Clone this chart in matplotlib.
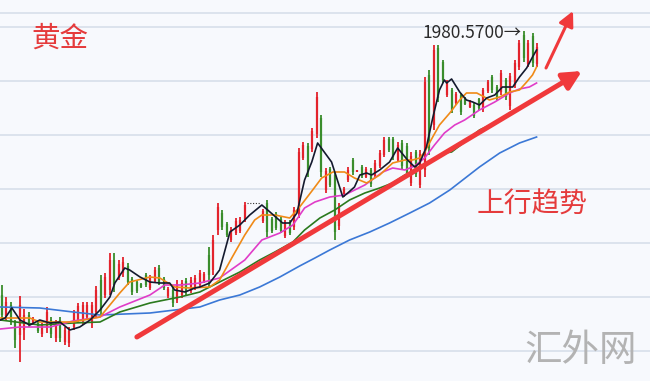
import numpy as np
import matplotlib
matplotlib.use("Agg")
import matplotlib.pyplot as plt

nan = float("nan")

# ---------------- data (gold, OHLC) ----------------
opens = [1717, 1696, 1707, 1690, 1677, 1682, 1697, 1688, 1689, 1678,
         1684, 1692, 1674, 1692, 1670, 1669, 1685, 1692, 1691, 1695,
         1690, 1700, 1732, 1717, 1722, 1752, 1734, 1739, 1746, 1733,
         1730, 1728.5, 1737, 1724, 1731, 1744, 1733, 1716, 1722, 1712,
         1717, 1731, 1721, 1724, 1727, 1731, 1757, 1742, 1782, 1799,
         1788, 1772, 1779, 1781, 1793, nan, nan, nan, 1791, 1809,
         1793, 1798, 1793, 1776, 1790, 1785, 1798, 1854, 1866, 1863,
         1878, 1894, 1822, 1843, 1837, 1786, 1817, 1832, 1852, 1840,
         1845, 1835, 1842, 1836, 1846, 1857, 1873, 1873, 1852, 1869,
         1866, 1829, 1860, 1827, 1842, 1937, 1887, 1964, 1950, 1917,
         1922, 1909, 1917, 1914, 1905, 1907, 1913, 1903, 1921, 1935,
         1925, 1920, 1932, 1906, 1927, 1945, 1977, 1948, 1976, 1948]
highs = [1727, 1715, 1710, 1692, 1716, 1703, 1700, 1695, 1690, 1689,
         1705, 1695, 1692, 1695, 1685, 1685, 1702, 1709, 1710, 1710,
         1710, 1726, 1737, 1739, 1759, 1759, 1752, 1755, 1749, 1735,
         1732, 1729, 1739, 1737, 1745, 1747, 1735, 1725, 1725, 1732,
         1732, 1734, 1735, 1737, 1742, 1740, 1765, 1777, 1809, 1802,
         1790, 1785, 1794, 1795, 1810, nan, nan, nan, 1803, 1812,
         1795, 1800, 1795, 1792, 1792, 1805, 1864, 1870, 1869, 1884,
         1920, 1897, 1844, 1845, 1840, 1809, 1825, 1845, 1854, 1842,
         1847, 1845, 1844, 1852, 1862, 1875, 1875, 1875, 1870, 1872,
         1869, 1860, 1862, 1862, 1935, 1942, 1967, 1967, 1952, 1932,
         1924, 1920, 1919, 1915, 1912, 1909, 1914, 1924, 1932, 1937,
         1927, 1942, 1934, 1939, 1952, 1972, 1980.57, 1972, 1979, 1969]
lows = [1692, 1692, 1687, 1664, 1650, 1672, 1685, 1687, 1679, 1675,
        1679, 1674, 1670, 1670, 1667, 1665, 1682, 1689, 1687, 1692,
        1684, 1694, 1695, 1714, 1717, 1720, 1732, 1735, 1727, 1717,
        1719, 1724, 1725, 1722, 1729, 1727, 1722, 1714, 1705, 1709,
        1714, 1717, 1719, 1722, 1725, 1729, 1725, 1737, 1777, 1782,
        1775, 1770, 1777, 1779, 1790, nan, nan, nan, 1789, 1775,
        1779, 1782, 1779, 1774, 1777, 1782, 1794, 1852, 1835, 1860,
        1874, 1835, 1819, 1825, 1772, 1782, 1815, 1830, 1837, 1840,
        1834, 1834, 1825, 1834, 1844, 1855, 1860, 1852, 1850, 1842,
        1835, 1826, 1835, 1824, 1835, 1857, 1882, 1910, 1929, 1915,
        1899, 1907, 1897, 1907, 1904, 1894, 1902, 1900, 1919, 1919,
        1912, 1917, 1912, 1902, 1924, 1942, 1950, 1945, 1945, 1945]
closes = [1697, 1710, 1690, 1672, 1707, 1697, 1687, 1693, 1681, 1686,
          1700, 1678, 1687, 1674, 1682, 1681, 1699, 1706, 1707, 1707,
          1707, 1722, 1702, 1735, 1752, 1727, 1748, 1750, 1730, 1720,
          1721, 1725, 1727, 1734, 1742, 1730, 1724, 1723, 1709, 1728,
          1729, 1720, 1732, 1734, 1739, 1738, 1737, 1772, 1805, 1785,
          1777, 1782, 1791, 1792, 1807, nan, nan, nan, 1801, 1780,
          1781, 1784, 1781, 1789, 1779, 1802, 1860, 1867, 1840, 1881,
          1915, 1840, 1841, 1827, 1780, 1805, 1823, 1842, 1840, 1842,
          1836, 1843, 1828, 1849, 1859, 1872, 1862, 1855, 1867, 1846,
          1839, 1856, 1838, 1858, 1930, 1864, 1962, 1914, 1932, 1929,
          1902, 1918, 1900, 1908, 1911, 1896, 1904, 1922, 1930, 1922,
          1914, 1939, 1915, 1936, 1949, 1969, 1954, 1969, 1949, 1965]

# moving averages, read as (bar position, price)
ma5_x = [-0.4, 0.7, 2.2, 4, 6.2, 8.4, 10.7, 12.9, 15.1, 17.3, 19.6, 21.8, 24, 25.1,
         27.3, 28.4, 30.7, 32.9, 35.1, 37.3, 38.4, 40.7, 42.9, 44, 46.2, 48.4, 50.7,
         52.9, 55.1, 57.8, 59.6, 62.4, 64, 65.6, 67.3, 68.9, 70.2, 73.3, 75.8, 76.9,
         78.4, 79.6, 81.1, 82.2, 84, 86.2, 88, 90.2, 91.8, 92.9, 94.4, 95.8, 97.3,
         98.4, 98.9, 100, 101.8, 103.3, 104.7, 106.2, 107.8, 109.6, 111.3, 113.6,
         115.1, 116.7, 118, 118.9]
ma5_y = [1692, 1694, 1704, 1692, 1687, 1692, 1689, 1690, 1682, 1685, 1692, 1702, 1715,
         1729, 1744, 1742, 1735, 1730, 1729, 1729, 1722, 1720, 1724, 1725, 1729, 1742,
         1780, 1787, 1797, 1807, 1800, 1789, 1789, 1799, 1832, 1850, 1869, 1850, 1815,
         1819, 1825, 1837, 1839, 1837, 1842, 1850, 1864, 1852, 1845, 1849, 1865, 1894,
         1922, 1932, 1929, 1933, 1920, 1912, 1910, 1907, 1914, 1917, 1925, 1925, 1935,
         1944, 1955, 1962]
ma10_x = [-0.4, 6.2, 8.4, 15.8, 21.8, 24, 26.2, 28.4, 32.9, 35.1, 38.4, 41.8, 46.2,
          48.4, 51.1, 54, 56.2, 57.8, 60.7, 64, 66.2, 69.1, 71.1, 73.6, 76.2, 78.4,
          81.1, 84, 86.9, 89.6, 91.3, 92.9, 94, 95.8, 97.3, 99.6, 101.8, 103.3, 105.6,
          107.3, 108.4, 110.7, 112.9, 115.1, 116.7, 118, 118.9]
ma10_y = [1694, 1694, 1690, 1690, 1695, 1707, 1719, 1730, 1735, 1734, 1725, 1724, 1725,
          1732, 1754, 1777, 1792, 1797, 1797, 1794, 1805, 1822, 1834, 1840, 1840, 1834,
          1829, 1837, 1849, 1852, 1852, 1854, 1860, 1875, 1887, 1899, 1912, 1919, 1919,
          1915, 1912, 1915, 1920, 1922, 1930, 1937, 1945]
ma20_x = [-0.4, 4, 10.7, 15.8, 21.8, 26.2, 32.9, 36.2, 39.6, 44, 48.4, 54, 57.8, 61.8,
          64.7, 67.3, 69.6, 72.9, 76.2, 80.7, 84.7, 86.9, 89.6, 91.8, 94, 96.2, 98.4,
          100.7, 102.9, 106.2, 109.6, 112.9, 115.1, 117.3, 118.9]
ma20_y = [1683, 1685, 1685, 1691, 1695, 1705, 1717, 1727, 1727, 1729, 1734, 1752, 1772,
          1779, 1787, 1804, 1810, 1815, 1817, 1827, 1840, 1844, 1842, 1846, 1854, 1867,
          1879, 1887, 1892, 1902, 1910, 1919, 1923, 1925, 1929]
ma30_x = [-0.4, 8.4, 15.8, 21.8, 26.2, 32.9, 36.2, 39.6, 44, 48.4, 52.9, 57.3, 60.7,
          64.7, 67.3, 70.7, 74, 77.3, 80.7, 84, 86.9, 89.6, 92.9, 95.8, 98.4, 100,
          102.9, 106.2, 109.6, 112.9, 116.2, 118.9]
ma30_y = [1692, 1687, 1689, 1690, 1700, 1709, 1712, 1715, 1720, 1730, 1740, 1752, 1760,
          1770, 1782, 1794, 1802, 1812, 1819, 1824, 1829, 1837, 1844, 1852, 1859, 1860,
          1870, 1882, 1889, 1899, 1907, 1913]
ma60_x = [-0.4, 8.4, 15.8, 21.8, 32.9, 44, 48.4, 52.9, 57.3, 61.8, 66.2, 69.6, 72.9,
          77.3, 81.8, 86.2, 90.7, 95.1, 99.6, 106.2, 110.7, 115.1, 118.9]
ma60_y = [1705, 1704, 1700, 1697, 1699, 1705, 1712, 1717, 1725, 1735, 1746, 1754, 1762,
          1772, 1780, 1789, 1799, 1809, 1822, 1845, 1859, 1869, 1875]

grid_levels = [1985, 1931, 1877, 1823, 1769, 1715, 1661]

# ---------------- figure ----------------
BG = "#f7f9fd"
fig = plt.figure(figsize=(6.5, 3.81), dpi=100)
fig.patch.set_facecolor(BG)
ax = fig.add_axes([0, 0, 1, 1])
ax.set_facecolor(BG)
ax.set_xlim(-0.445, 144.13)
ax.set_ylim(1631, 2012)
for s in ax.spines.values():
    s.set_visible(False)
ax.set_xticks([])
ax.set_yticks([])

for g in grid_levels:
    ax.axhline(g, color="#d5dde9", lw=1.1, zorder=0)
ax.axhline(1999, color="#d5dde9", lw=1.1, zorder=0)

o = np.array(opens, float)
h = np.array(highs, float)
l = np.array(lows, float)
c = np.array(closes, float)
x = np.arange(len(o))
ok = ~np.isnan(o)
up = ok & (c >= o)
dn = ok & (c < o)
RED = "#e3232c"
GRN = "#3a8d2c"
for mask, col in ((up, RED), (dn, GRN)):
    ax.vlines(x[mask], l[mask], h[mask], color=col, lw=1.3, zorder=2)
    ax.vlines(x[mask], np.minimum(o, c)[mask], np.maximum(o, c)[mask],
              color=col, lw=1.6, zorder=2)

# dotted marker
ax.hlines(1809, 54.5, 57.3, colors="#333333", linestyles=(0, (1, 1.5)), lw=0.8, zorder=3)

ax.plot(ma60_x, ma60_y, color="#3b78d6", lw=1.2, zorder=3)
ax.plot(ma30_x, ma30_y, color="#2b7a1e", lw=1.2, zorder=3)
ax.plot(ma20_x, ma20_y, color="#e03cc8", lw=1.2, zorder=3)
ax.plot(ma10_x, ma10_y, color="#f08a17", lw=1.2, zorder=3)
ax.plot(ma5_x, ma5_y, color="#141a2e", lw=1.2, zorder=4)

# trend arrows
ARW = "#f0393b"
ax.annotate("", xy=(129.0, 1941), xytext=(30.0, 1675),
            arrowprops=dict(arrowstyle="-|>,head_length=1.1,head_width=0.55",
                            lw=3.6, color=ARW, shrinkA=0, shrinkB=0), zorder=5)
ax.annotate("", xy=(127.0, 2001), xytext=(121.0, 1944),
            arrowprops=dict(arrowstyle="-|>,head_length=0.9,head_width=0.45",
                            lw=2.2, color=ARW, shrinkA=0, shrinkB=0), zorder=5)

CJK = ["Noto Sans CJK SC", "DejaVu Sans"]

# max label
imax = int(np.nanargmax(h))
ax.text(imax - 0.5, h[imax] - 1.5, "1980.5700→", ha="right", va="center",
        fontsize=12.5, color="#2a2a2a", family=CJK, zorder=6)

fig.text(60 / 650, 1 - 39 / 381, "黄金", ha="center", va="center",
         fontsize=20.5, color="#e53b3c", family=CJK)
fig.text(532 / 650, 1 - 205 / 381, "上行趋势", ha="center", va="center",
         fontsize=20, color="#e53b3c", family=CJK)
fig.text(581 / 650, 1 - 350 / 381, "汇外网", ha="center", va="center",
         fontsize=27, color="#b3b3b3", family=CJK, fontweight="light")

fig.savefig("out.png", dpi=100, facecolor=BG)
